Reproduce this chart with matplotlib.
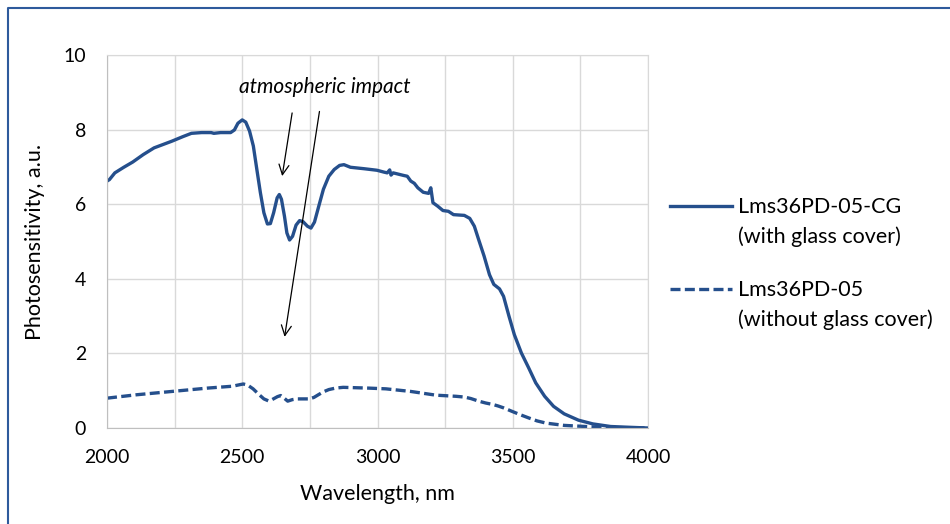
import matplotlib
matplotlib.use("Agg")
import matplotlib.pyplot as plt
from matplotlib.lines import Line2D
import numpy as np

plt.rcParams['font.family'] = ['Lato', 'DejaVu Sans']

# Solid series: Lms36PD-05-CG (with glass cover)
wl_cg = [2000, 2009, 2029, 2062, 2095, 2134, 2174, 2207, 2240, 2280, 2312, 2350,
         2385, 2395, 2420, 2457, 2471, 2484, 2500, 2513, 2527, 2541, 2554, 2567,
         2580, 2593, 2604, 2616, 2629, 2637, 2645, 2656, 2665, 2675, 2686, 2699,
         2712, 2725, 2741, 2754, 2767, 2783, 2800, 2820, 2840, 2860, 2876, 2900,
         2952, 2998, 3024, 3036, 3045, 3050, 3058, 3097, 3110, 3123, 3136, 3149,
         3169, 3189, 3197, 3205, 3222, 3242, 3262, 3281, 3321, 3341, 3358, 3374,
         3394, 3414, 3430, 3451, 3466, 3486, 3506, 3532, 3559, 3585, 3618, 3651,
         3690, 3743, 3796, 3862, 3928, 4000]
ps_cg = [6.62, 6.66, 6.84, 6.99, 7.13, 7.33, 7.51, 7.60, 7.69, 7.81, 7.90, 7.92,
         7.92, 7.90, 7.92, 7.92, 7.99, 8.17, 8.26, 8.20, 7.96, 7.56, 6.93, 6.31,
         5.77, 5.47, 5.48, 5.77, 6.17, 6.26, 6.13, 5.68, 5.23, 5.04, 5.14, 5.44,
         5.56, 5.53, 5.41, 5.36, 5.52, 5.95, 6.40, 6.75, 6.93, 7.04, 7.06, 6.99,
         6.95, 6.91, 6.86, 6.84, 6.92, 6.78, 6.84, 6.77, 6.75, 6.62, 6.56, 6.44,
         6.32, 6.29, 6.44, 6.04, 5.95, 5.83, 5.81, 5.72, 5.70, 5.62, 5.41, 5.05,
         4.61, 4.11, 3.85, 3.73, 3.53, 3.00, 2.50, 2.01, 1.61, 1.21, 0.85, 0.58,
         0.38, 0.21, 0.11, 0.04, 0.02, 0.00]

# Dashed series: Lms36PD-05 (without glass cover)
wl_nc = [2000, 2108, 2240, 2372, 2464, 2490, 2504, 2520, 2540, 2563, 2580, 2596,
         2610, 2630, 2642, 2655, 2668, 2685, 2701, 2748, 2765, 2781, 2800, 2820,
         2845, 2873, 2965, 3031, 3123, 3216, 3290, 3321, 3345, 3374, 3400, 3427,
         3446, 3466, 3486, 3506, 3530, 3559, 3590, 3624, 3690, 3796, 3900, 4000]
ps_nc = [0.80, 0.89, 0.98, 1.07, 1.12, 1.16, 1.18, 1.15, 1.05, 0.89, 0.78, 0.73,
         0.76, 0.84, 0.87, 0.80, 0.72, 0.76, 0.78, 0.78, 0.82, 0.89, 0.97, 1.03,
         1.07, 1.09, 1.07, 1.05, 0.98, 0.88, 0.85, 0.83, 0.79, 0.72, 0.67, 0.63,
         0.59, 0.54, 0.48, 0.42, 0.35, 0.27, 0.19, 0.13, 0.07, 0.03, 0.01, 0.00]

labels = ["Lms36PD-05-CG\n(with glass cover)", "Lms36PD-05\n(without glass cover)"]
xticks = [2000, 2500, 3000, 3500, 4000]
yticks = [0, 2, 4, 6, 8, 10]
annotation = "atmospheric impact"
# arrows: (start x, start y) -> (end x, end y) in data units
arrows = [((2686, 8.52), (2646, 6.68)), ((2787, 8.56), (2655, 2.37))]

color = '#254f8c'
grid_c = '#d9d9d9'
dash = (0, (3, 1.3))

fig = plt.figure(figsize=(9.5, 5.24), dpi=100)
ax = fig.add_axes([107/950, 1-428/524, (648-107)/950, (428-55)/524])

ax.plot(wl_cg, ps_cg, color=color, lw=2.4, solid_capstyle='round',
        solid_joinstyle='round')
ax.plot(wl_nc, ps_nc, color=color, lw=2.4, linestyle=dash)

ax.set_xlim(2000, 4000)
ax.set_ylim(0, 10)
ax.set_xticks(xticks)
ax.set_xticks(np.arange(2000, 4001, 250), minor=True)
ax.set_yticks(yticks)
ax.grid(True, which='both', color=grid_c, lw=1)
ax.set_axisbelow(True)
ax.tick_params(which='both', length=0, labelsize=14)
ax.tick_params(axis='x', pad=15)
ax.tick_params(axis='y', pad=15)
for s in ax.spines.values():
    s.set_color(grid_c)
ax.spines['bottom'].set_color('#bfbfbf')
ax.spines['left'].set_color('#bfbfbf')

ax.set_xlabel("Wavelength, nm", fontsize=15.5, va='center')
ax.set_ylabel("Photosensitivity, a.u.", fontsize=15.5, va='center')
ax.xaxis.set_label_coords(0.5, (428-494)/373)
ax.yaxis.set_label_coords((35-107)/541, 0.5)

ax.text(2806, 9.15, annotation, style='italic', fontsize=15, ha='center', va='center')
for (x0, y0), (x1, y1) in arrows:
    ax.annotate("", xy=(x1, y1), xytext=(x0, y0),
                arrowprops=dict(arrowstyle='->', color='black', lw=0.9,
                                mutation_scale=18))

# legend drawn manually (handle aligned with first text line)
leg_y = [1-206/524, 1-289/524]
for yy, ls, lab in zip(leg_y, ['-', dash], labels):
    fig.add_artist(Line2D([670/950, 732/950], [yy, yy], transform=fig.transFigure,
                          color=color, lw=2.4, linestyle=ls))
    fig.text(738/950, yy + 9/524, lab, fontsize=15.5, va='top',
             ha='left', linespacing=1.55, transform=fig.transFigure)

# chart border (left and top)
fig.add_artist(Line2D([8/950, 8/950, 1.0], [0.0, 1-8/524, 1-8/524],
                      transform=fig.transFigure, color='#2e5a9c', lw=1.5))

fig.savefig("out.png", dpi=100)
